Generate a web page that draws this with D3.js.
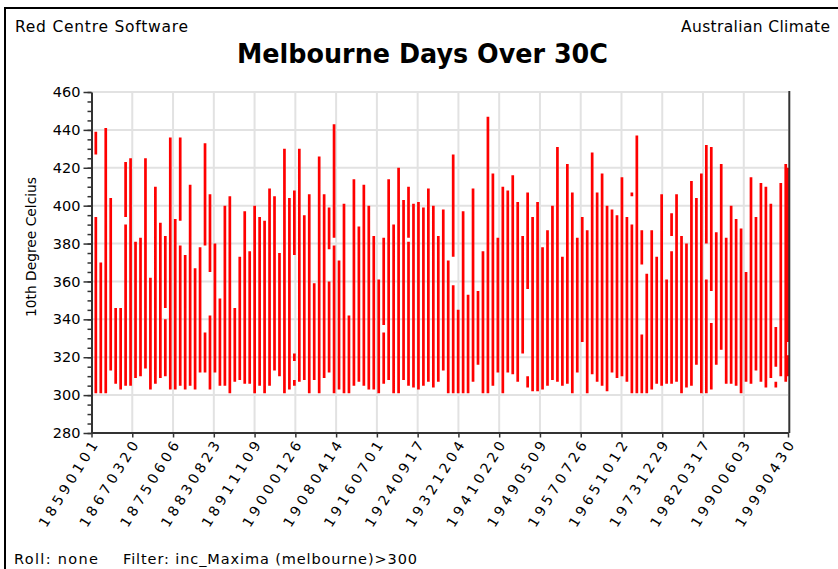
<!DOCTYPE html>
<html>
<head>
<meta charset="utf-8">
<script src="https://cdn.jsdelivr.net/npm/d3@7"></script>
<style>
  html, body { margin: 0; padding: 0; background: #ffffff; }
  svg { display: block; }
  text { font-family: "DejaVu Sans", "Liberation Sans", Arial, sans-serif; fill: #000; }
</style>
</head>
<body>
<svg id="chart" width="838" height="569"></svg>
<script>
// ---------------- data ----------------
const title = "Melbourne Days Over 30C";
const leftNote = "Red Centre Software";
const rightNote = "Australian Climate";
const yLabel = "10th Degree Celcius";
const rollNote = "Roll: none";
const filterNote = "Filter: inc_Maxima (melbourne)>300";

const xTickLabels = ["18590101","18670320","18750606","18830823","18911109","19000126",
  "19080414","19160701","19240917","19321204","19410220","19490509","19570726",
  "19651012","19731229","19820317","19900603","19990430"];
const yTicks = [280, 300, 320, 340, 360, 380, 400, 420, 440, 460];

const firstSeason = 1859;           // season k starts in Nov of firstSeason + k
const lastRunDate = "19990420";     // final partial run at the end of the record
// each season: runs of consecutive hot days, [high, low] in tenths of a degree
const seasons = [
  [[439,427],[394,301]], [[370,301]], [[441,301]], [[404,313]], [[346,306]],
  [[346,303]], [[423,394],[390,305]], [[425,305]], [[381,309]], [[383,310]],
  [[425,314]], [[362,303]], [[410,306]], [[391,309]], [[384,346],[340,310]],
  [[436,372],[377,303]], [[393,303]], [[436,392],[379,305]], [[374,303]], [[411,305]],
  [[367,303]], [[378,312]], [[433,379],[333,312]], [[406,365],[342,303]], [[380,312]],
  [[351,305]], [[400,305]], [[405,301]], [[346,307]], [[373,308]],
  [[397,306]], [[376,306]], [[400,301]], [[394,305]], [[392,301]],
  [[409,305]], [[405,313]], [[375,310]], [[430,301]], [[404,303]],
  [[408,374],[322,318],[308,305]], [[430,307]], [[395,308]], [[406,301]], [[359,308]],
  [[426,301]], [[406,309]], [[399,377],[360,312]], [[443,383],[379,301]], [[371,303]],
  [[401,301]], [[342,301]], [[414,305]], [[389,307]], [[411,305]],
  [[400,303]], [[384,303]], [[361,301]], [[383,337],[333,306]], [[414,308]],
  [[390,301]], [[420,301]], [[403,308]], [[410,383],[381,305]], [[401,304]],
  [[402,303]], [[399,305]], [[409,307]], [[400,304]], [[384,307]],
  [[398,313]], [[371,301]], [[427,373],[358,301]], [[345,301]], [[397,301]],
  [[353,301]], [[409,307]], [[355,316]], [[376,301]], [[447,301]],
  [[417,305]], [[383,312]], [[410,301]], [[408,312]], [[416,311]],
  [[402,307]], [[384,322]], [[407,356],[310,304]], [[394,302]], [[402,302]],
  [[378,303]], [[387,305]], [[400,308]], [[431,307]], [[373,305]],
  [[422,306]], [[407,301]], [[383,312]], [[394,328]], [[387,301]],
  [[428,311]], [[407,307]], [[417,305]], [[400,302]], [[398,312]],
  [[395,309]], [[415,310]], [[394,307]], [[407,405],[390,301]], [[437,301]],
  [[387,369],[332,301]], [[364,301]], [[387,303]], [[373,306]], [[406,305]],
  [[361,306]], [[396,384],[376,306]], [[406,307]], [[384,301]], [[380,304]],
  [[413,305]], [[404,316]], [[417,301]], [[432,380],[361,301]], [[431,355],[338,303]],
  [[386,316]], [[422,324]], [[383,306]], [[400,306]], [[393,305]],
  [[388,301]], [[365,307]], [[415,306]], [[394,313]], [[412,307]],
  [[410,304]], [[401,309]], [[336,315],[307,304]], [[412,310]], [[422,307]]
];
const lastRuns = [[420,328],[321,310]];

// ---------------- chart ----------------
const parse = d3.timeParse("%Y%m%d");
const fmt = d3.timeFormat("%Y%m%d");
const svg = d3.select("#chart");

const plot = { left: 91.5, right: 788, top: 92, bottom: 433 };
const xDates = xTickLabels.map(parse);
const x = d3.scaleTime().domain([xDates[0], xDates[xDates.length - 1]]).range([plot.left, plot.right]);
const y = d3.scaleLinear().domain([yTicks[0], yTicks[yTicks.length - 1]]).range([plot.bottom, plot.top]);

// outer frame
svg.append("path").attr("d", "M5,569 L5,8 L840,8").attr("fill", "none")
  .attr("stroke", "#000").attr("stroke-width", 2);

// grid
const grid = svg.append("g").attr("stroke", "#e2e2e2").attr("stroke-width", 2);
grid.selectAll("line.h").data(yTicks.slice(1)).join("line").attr("class", "h")
  .attr("x1", plot.left).attr("x2", plot.right).attr("y1", d => y(d)).attr("y2", d => y(d));
grid.selectAll("line.v").data(xDates.slice(1, -1)).join("line").attr("class", "v")
  .attr("x1", d => x(d)).attr("x2", d => x(d)).attr("y1", plot.top).attr("y2", plot.bottom);

// data line
const pts = [];
seasons.forEach((runs, k) => {
  const d = new Date(firstSeason + k, 10, 15);
  runs.forEach(r => { pts.push({ d, v: r[0] }, { d, v: r[1] }, null); });
});
const ld = parse(lastRunDate);
lastRuns.forEach(r => { pts.push({ d: ld, v: r[0] }, { d: ld, v: r[1] }, null); });

const line = d3.line().defined(p => p).x(p => x(p.d)).y(p => y(p.v));
svg.append("path").attr("d", line(pts)).attr("fill", "none")
  .attr("stroke", "#ff0000").attr("stroke-width", 2.7).attr("stroke-linecap", "butt");

// right border
svg.append("line").attr("x1", 789.3).attr("x2", 789.3).attr("y1", plot.top - 1).attr("y2", plot.bottom)
  .attr("stroke", "#333").attr("stroke-width", 2);

// y axis: minor ticks then major
const yMinor = svg.append("g").attr("transform", `translate(${plot.left},0)`)
  .call(d3.axisLeft(y).tickValues(d3.range(280, 461, 5)).tickSize(4).tickFormat(""));
yMinor.select(".domain").remove();
yMinor.selectAll(".tick line").attr("stroke", "#333").attr("stroke-width", 1.5);

const yAxis = svg.append("g").attr("transform", `translate(${plot.left},0)`)
  .call(d3.axisLeft(y).tickValues(yTicks).tickSize(8).tickSizeOuter(0).tickPadding(3));
yAxis.select(".domain").attr("stroke", "#333").attr("stroke-width", 2);
yAxis.selectAll(".tick line").attr("stroke", "#333").attr("stroke-width", 1.5);
yAxis.selectAll(".tick text").style("font-family", '"DejaVu Sans", sans-serif')
  .style("font-size", "14.5px").attr("fill", "#000");

// x axis
const xAxis = svg.append("g").attr("transform", `translate(0,${plot.bottom - 0.5})`)
  .call(d3.axisBottom(x).tickValues(xDates).tickSize(5).tickSizeOuter(0).tickFormat(fmt));
xAxis.select(".domain").attr("stroke", "#333").attr("stroke-width", 2);
xAxis.selectAll(".tick line").attr("stroke", "#333").attr("stroke-width", 1.5);
xAxis.selectAll(".tick text")
  .style("font-family", '"DejaVu Sans", sans-serif').style("font-size", "14px").attr("fill", "#000")
  .attr("x", 0).attr("y", 0).attr("dy", "0.35em")
  .attr("text-anchor", "end")
  .attr("textLength", 98).attr("lengthAdjust", "spacing")
  .attr("transform", "translate(2,10) rotate(-58)");

// texts
svg.append("text").attr("x", 15).attr("y", 32).text(leftNote)
  .style("font-size", "15.5px").attr("textLength", 173).attr("lengthAdjust", "spacing");
svg.append("text").attr("x", 681).attr("y", 32).text(rightNote)
  .style("font-size", "15.5px").attr("textLength", 149).attr("lengthAdjust", "spacing");
svg.append("text").attr("x", 237).attr("y", 63).text(title)
  .style("font-size", "26px").style("font-weight", "bold")
  .attr("textLength", 371).attr("lengthAdjust", "spacingAndGlyphs");
svg.append("text").attr("transform", "translate(36,247) rotate(-90)")
  .attr("text-anchor", "middle").text(yLabel)
  .style("font-size", "14.5px").attr("textLength", 140).attr("lengthAdjust", "spacingAndGlyphs");
svg.append("text").attr("x", 14).attr("y", 564).text(rollNote)
  .style("font-size", "14.5px").attr("textLength", 84).attr("lengthAdjust", "spacing");
svg.append("text").attr("x", 123).attr("y", 564).text(filterNote)
  .style("font-size", "14.5px").attr("textLength", 294).attr("lengthAdjust", "spacing");
</script>
</body>
</html>
